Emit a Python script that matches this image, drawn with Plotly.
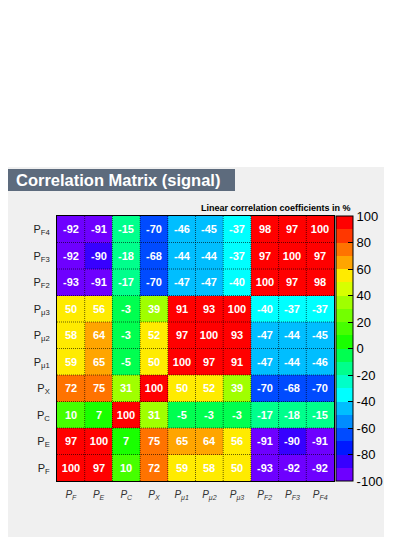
import plotly.graph_objects as go

labels_html = ["P<sub>F</sub>", "P<sub>E</sub>", "P<sub>C</sub>", "P<sub>X</sub>",
               "P<sub>μ1</sub>", "P<sub>μ2</sub>", "P<sub>μ3</sub>",
               "P<sub>F2</sub>", "P<sub>F3</sub>", "P<sub>F4</sub>"]

# rows from bottom (P_F) to top (P_F4); columns left (P_F) to right (P_F4)
row_PF = [100, 97, 10, 72, 59, 58, 50, -93, -92, -92]
row_PE = [97, 100, 7, 75, 65, 64, 56, -91, -90, -91]
row_PC = [10, 7, 100, 31, -5, -3, -3, -17, -18, -15]
row_PX = [72, 75, 31, 100, 50, 52, 39, -70, -68, -70]
row_Pmu1 = [59, 65, -5, 50, 100, 97, 91, -47, -44, -46]
row_Pmu2 = [58, 64, -3, 52, 97, 100, 93, -47, -44, -45]
row_Pmu3 = [50, 56, -3, 39, 91, 93, 100, -40, -37, -37]
row_PF2 = [-93, -91, -17, -70, -47, -47, -40, 100, 97, 98]
row_PF3 = [-92, -90, -18, -68, -44, -44, -37, 97, 100, 97]
row_PF4 = [-92, -91, -15, -70, -46, -45, -37, 98, 97, 100]

z = [row_PF, row_PE, row_PC, row_PX, row_Pmu1, row_Pmu2, row_Pmu3, row_PF2, row_PF3, row_PF4]

colorbar_ticks = [-100, -80, -60, -40, -20, 0, 20, 40, 60, 80, 100]

# 20 palette bands from -100 to 100
band_colors = [
    "rgb(110,0,255)", "rgb(55,0,255)", "rgb(0,25,255)", "rgb(0,75,255)",
    "rgb(0,140,255)", "rgb(0,190,255)", "rgb(0,255,255)", "rgb(0,255,200)",
    "rgb(0,255,140)", "rgb(0,255,80)", "rgb(25,255,0)", "rgb(70,255,0)",
    "rgb(115,255,0)", "rgb(160,255,0)", "rgb(215,255,0)", "rgb(255,235,0)",
    "rgb(255,165,0)", "rgb(255,115,0)", "rgb(255,55,0)", "rgb(255,0,0)",
]

eps = 1e-6
n = len(band_colors)
colorscale = []
for k, c in enumerate(band_colors):
    lo = max(0.0, k / n - eps)
    hi = 1.0 if k == n - 1 else (k + 1) / n - eps
    colorscale.append([lo, c])
    colorscale.append([hi, c])

cell_text = [[str(v) for v in row] for row in z]

W, H = 415, 537
OFF = 8  # browser body margin
L, R, T, B = 57 - OFF, 334 - OFF, 216 - OFF, 481 - OFF  # plot area in figure px


def px_x(p):
    return (p - OFF - L) / (R - L)


def px_y(p):
    return (B - (p - OFF)) / (B - T)


FONT = "Liberation Sans, Arial, Helvetica, sans-serif"
ncol = len(labels_html)

fig = go.Figure()
fig.add_trace(go.Heatmap(
    z=z,
    x=list(range(ncol)),
    y=list(range(ncol)),
    zmin=-100, zmax=100,
    colorscale=colorscale,
    text=cell_text,
    texttemplate="<b>%{text}</b>",
    textfont=dict(color="white", size=11, family=FONT),
    xgap=0, ygap=0,
    hoverinfo="skip",
    colorbar=dict(
        x=px_x(336), xanchor="left", xpad=0,
        y=0.5, yanchor="middle", ypad=0,
        len=1, lenmode="fraction",
        thickness=17, thicknessmode="pixels",
        outlinewidth=1, outlinecolor="black",
        tickvals=colorbar_ticks,
        ticktext=[str(v) for v in colorbar_ticks],
        ticks="inside", ticklen=5, tickcolor="black", tickwidth=1,
        tickfont=dict(size=13, color="black", family=FONT),
    ),
))

shapes = []
# grey canvas
shapes.append(dict(type="rect", xref="paper", yref="paper",
                   x0=px_x(OFF), x1=px_x(384), y0=px_y(560), y1=px_y(167),
                   fillcolor="#f0f0f0", line=dict(width=0), layer="below"))
# title box
shapes.append(dict(type="rect", xref="paper", yref="paper",
                   x0=px_x(3), x1=px_x(235), y0=px_y(191), y1=px_y(169),
                   fillcolor="#5D6B7D", line=dict(width=0), layer="below"))
# dotted cell separators
for i in range(1, ncol):
    shapes.append(dict(type="line", xref="x", yref="paper", x0=i - 0.5, x1=i - 0.5,
                       y0=0, y1=1, line=dict(color="rgba(0,0,0,0.6)", width=1, dash="1px,1px"),
                       layer="above"))
    shapes.append(dict(type="line", xref="paper", yref="y", x0=0, x1=1,
                       y0=i - 0.5, y1=i - 0.5, line=dict(color="rgba(0,0,0,0.6)", width=1, dash="1px,1px"),
                       layer="above"))

annotations = [
    dict(text="<b>Correlation Matrix (signal)</b>", xref="paper", yref="paper",
         x=px_x(14), y=px_y(180), xanchor="left", yanchor="middle", showarrow=False,
         font=dict(color="white", size=16.5, family=FONT)),
    dict(text="<b>Linear correlation coefficients in %</b>", xref="paper", yref="paper",
         x=px_x(353), y=px_y(208), xanchor="right", yanchor="middle", showarrow=False,
         font=dict(color="black", size=9, family=FONT)),
]

fig.update_layout(
    width=W, height=H,
    margin=dict(l=L, r=W - R, t=T, b=H - B, pad=0),
    paper_bgcolor="white",
    plot_bgcolor="rgba(0,0,0,0)",
    shapes=shapes,
    annotations=annotations,
    xaxis=dict(
        tickvals=list(range(ncol)), ticktext=["<i>" + t + "</i>" for t in labels_html],
        range=[-0.5, ncol - 0.5], showgrid=False, zeroline=False,
        showline=True, linecolor="black", linewidth=1, mirror=True,
        ticks="", tickfont=dict(size=10, color="#333333", family=FONT),
        ticklabelstandoff=4,
    ),
    yaxis=dict(
        tickvals=list(range(ncol)), ticktext=labels_html,
        range=[-0.5, ncol - 0.5], showgrid=False, zeroline=False,
        showline=True, linecolor="black", linewidth=1, mirror=True,
        ticks="", tickfont=dict(size=11, color="#222222", family=FONT),
        ticklabelstandoff=4,
    ),
    showlegend=False,
)

fig.write_html("out.html")
